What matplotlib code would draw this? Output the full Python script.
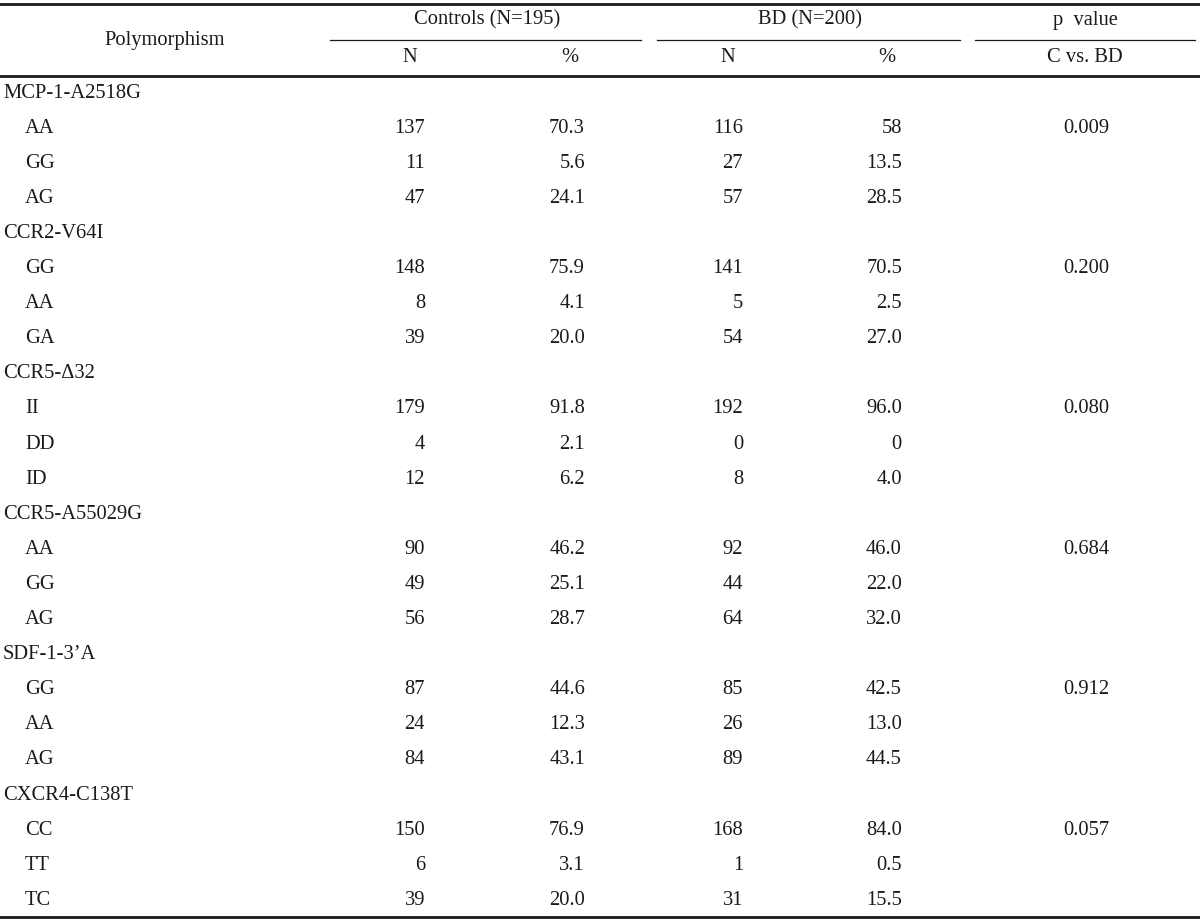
import matplotlib
matplotlib.use("Agg")
import matplotlib.pyplot as plt

plt.rcParams['font.family'] = ['Liberation Serif', 'DejaVu Serif']

groups = ["MCP-1-A2518G", "CCR2-V64I", "CCR5-\u039432", "CCR5-A55029G", "SDF-1-3\u2019A", "CXCR4-C138T"]
genotypes = [["AA", "GG", "AG"], ["GG", "AA", "GA"], ["II", "DD", "ID"],
             ["AA", "GG", "AG"], ["GG", "AA", "AG"], ["CC", "TT", "TC"]]
ctrl_n = [[137, 11, 47], [148, 8, 39], [179, 4, 12], [90, 49, 56], [87, 24, 84], [150, 6, 39]]
ctrl_pct = [["70.3", "5.6", "24.1"], ["75.9", "4.1", "20.0"], ["91.8", "2.1", "6.2"],
            ["46.2", "25.1", "28.7"], ["44.6", "12.3", "43.1"], ["76.9", "3.1", "20.0"]]
bd_n = [[116, 27, 57], [141, 5, 54], [192, 0, 8], [92, 44, 64], [85, 26, 89], [168, 1, 31]]
bd_pct = [["58", "13.5", "28.5"], ["70.5", "2.5", "27.0"], ["96.0", "0", "4.0"],
          ["46.0", "22.0", "32.0"], ["42.5", "13.0", "44.5"], ["84.0", "0.5", "15.5"]]
p_values = ["0.009", "0.200", "0.080", "0.684", "0.912", "0.057"]

header_top = ["Controls (N=195)", "BD (N=200)", "p  value"]
header_sub = ["N", "%", "N", "%", "C vs. BD"]

W, H = 1200, 921
fig = plt.figure(figsize=(W / 100, H / 100), dpi=100)
ax = fig.add_axes([0, 0, 1, 1])
ax.set_xlim(0, W)
ax.set_ylim(H, 0)
ax.axis('off')

fs = 14.8
col = '#1a1a1a'

# rules
ax.plot([0, W], [4, 4], color=col, lw=2.0)
ax.plot([0, W], [76, 76], color=col, lw=2.0)
ax.plot([0, W], [917, 917], color=col, lw=2.0)
for x0, x1 in [(330, 641), (657, 960), (975, 1195)]:
    ax.plot([x0, x1], [40, 40], color=col, lw=0.9)

# headers
ax.text(165, 41, "Polymorphism", ha='center', va='center', fontsize=fs, color=col)
for x, t in zip([487, 810, 1085], header_top):
    ax.text(x, 20, t, ha='center', va='center', fontsize=fs, color=col)
for x, t in zip([410, 570, 728, 887, 1085], header_sub):
    ax.text(x, 58, t, ha='center', va='center', fontsize=fs, color=col)

# body
y = 93
dy = 35.1
for g in range(len(groups)):
    ax.text(3, y, groups[g], ha='left', va='center', fontsize=fs, color=col)
    y += dy
    for r in range(3):
        ax.text(25, y, genotypes[g][r], ha='left', va='center', fontsize=fs, color=col)
        ax.text(425, y, str(ctrl_n[g][r]), ha='right', va='center', fontsize=fs, color=col)
        ax.text(585, y, ctrl_pct[g][r], ha='right', va='center', fontsize=fs, color=col)
        ax.text(743, y, str(bd_n[g][r]), ha='right', va='center', fontsize=fs, color=col)
        ax.text(902, y, bd_pct[g][r], ha='right', va='center', fontsize=fs, color=col)
        if r == 0:
            ax.text(1086, y, p_values[g], ha='center', va='center', fontsize=fs, color=col)
        y += dy

fig.savefig("out.png", dpi=100)
